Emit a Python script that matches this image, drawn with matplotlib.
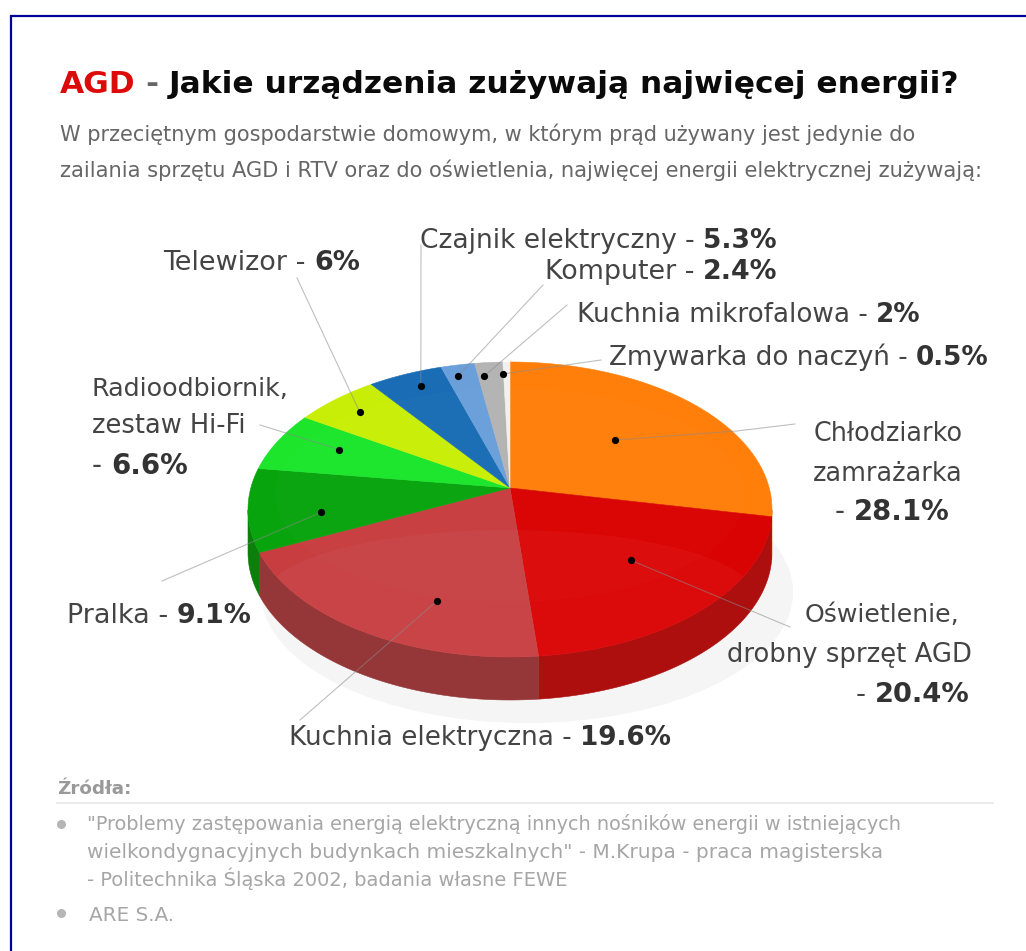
import numpy as np
import matplotlib
matplotlib.use("Agg")
import matplotlib.pyplot as plt
from matplotlib.patches import Ellipse, Polygon

categories = ["Chłodziarko zamrażarka", "Oświetlenie, drobny sprzęt AGD",
              "Kuchnia elektryczna", "Pralka", "Radioodbiornik, zestaw Hi-Fi",
              "Telewizor", "Czajnik elektryczny", "Komputer",
              "Kuchnia mikrofalowa", "Zmywarka do naczyń"]
values = [28.1, 20.4, 19.6, 9.1, 6.6, 6.0, 5.3, 2.4, 2.0, 0.5]
top_colors = ["#FF7F0A", "#DA0303", "#C83E40", "#08A40E", "#1CE52C",
              "#C8EE08", "#1A6DB5", "#6A9FDA", "#B4B4B4", "#F0F0F0"]
wall_colors = ["#C86408", "#AD0F0F", "#953638", "#0B7E0B", "#14A020",
               "#90AA08", "#14508A", "#4A74A0", "#858585", "#C0C0C0"]
dot_radius = [0.55, 0.64, 0.746, 0.73, 0.74, 0.85, 0.875, 0.903, 0.88, 0.893]
dot_angle = [50.6, 137.0, 199.8, 257.0, 292.0, 312.3, 334.0, 345.5, 352.6, 358.0]
leader_ends = [[(737, 431), (795, 424)], [(790, 627)], [(300, 720)], [(162, 581)],
               [(260, 425)], [(297, 278)], [(421, 245)], [(543, 285)],
               [(567, 305)], [(601, 360)]]

W, H = 1026, 951
CX, CY, RX, RY = 510.0, 509.5, 262.0, 147.5
APEX = 0.146
DEPTH = 43.0

fig = plt.figure(figsize=(W / 100, H / 100), dpi=100, facecolor="white")
ax = fig.add_axes([0, 0, 1, 1])
ax.set_xlim(0, W)
ax.set_ylim(H, 0)
ax.axis("off")
renderer = fig.canvas.get_renderer()


def project(angle_cw, r=1.0):
    """Perspective view of a point of the pie (angle clockwise from the top)."""
    X, Y = r * np.sin(angle_cw), r * np.cos(angle_cw)
    den = 1 + APEX * Y
    return CX + RX * X * np.sqrt(1 - APEX ** 2) / den, CY - RY * (Y + APEX) / den


# soft shadow and border
ax.add_patch(Ellipse((527, 592), 532, 262, fc="#F5F5F5", ec="none", zorder=1))
ax.plot([11, 11, W], [H, 16, 16], color="#00009A", lw=1.6, zorder=1,
        solid_joinstyle="miter")

edges = np.concatenate([[0], np.cumsum(values)]) / sum(values) * 2 * np.pi

# side wall
for i in range(len(values)):
    t = np.linspace(edges[i], edges[i + 1], 200)
    x, y = project(t)
    keep = y >= CY
    if keep.sum() > 1:
        xs, ys = x[keep], y[keep]
        ax.fill(np.r_[xs, xs[::-1]], np.r_[ys, ys[::-1] + DEPTH],
                fc=wall_colors[i], ec=wall_colors[i], lw=0.4, zorder=2)

# top face
apex_xy = project(0.0, 0.0)
for i in range(len(values)):
    t = np.linspace(edges[i], edges[i + 1], 200)
    x, y = project(t)
    ax.fill(np.r_[apex_xy[0], x], np.r_[apex_xy[1], y],
            fc=top_colors[i], ec=top_colors[i], lw=0.4, zorder=3)

# gloss bands on the top face
tt = np.linspace(0, 2 * np.pi, 400)
fx, fy = project(tt)
clip = Polygon(np.c_[fx, fy], closed=True, transform=ax.transData, fc="none", ec="none")
ax.add_patch(clip)
gloss = Ellipse((510, 597), 490, 134, fc="white", ec="none", alpha=0.035, zorder=4)
ax.add_patch(gloss)
gloss.set_clip_path(clip)
rim = Ellipse((510, 495), 470, 214, fc="white", ec="none", alpha=0.012, zorder=4)
ax.add_patch(rim)
rim.set_clip_path(clip)

# leaders and dots
for i in range(len(values)):
    px, py = project(np.radians(dot_angle[i]), dot_radius[i])
    pts = [(px, py)] + leader_ends[i]
    ax.plot(*zip(*pts), color="#8A8A8A", lw=0.8, alpha=0.55, zorder=5)
    ax.plot([px], [py], "o", color="black", ms=5.2, mec="none", zorder=6)


def runs(parts, x0, x1, y, base=14.0, family="DejaVu Sans"):
    """Write text runs side by side on one baseline, filling x0..x1 in pixels."""
    def measure(size):
        sizes = []
        for text, weight, _ in parts:
            t = ax.text(0, 0, text, fontsize=size, fontweight=weight, family=family)
            w = t.get_window_extent(renderer).width
            t.remove()
            sizes.append(w)
        gap = size * 100 / 72 * 0.318
        return sizes, gap, sum(sizes) + gap * (len(parts) - 1)

    _, _, total = measure(base)
    size = base * (x1 - x0) / total
    sizes, gap, _ = measure(size)
    x = x0
    for (text, weight, color), w in zip(parts, sizes):
        ax.text(x, y, text, fontsize=size, fontweight=weight, color=color,
                family=family, va="baseline", ha="left", zorder=7)
        x += w + gap


DARK = "#444444"
N, B = "normal", "bold"

runs([("AGD", B, "#DD0A0A"), ("-", B, "#666666"),
      ("Jakie urządzenia zużywają najwięcej energii?", B, "#0A0A0A")], 60, 960, 93)
SUB = "#666666"
runs([("W przeciętnym gospodarstwie domowym, w którym prąd używany jest jedynie do", N, SUB)],
     60, 917, 141)
runs([("zailania sprzętu AGD i RTV oraz do oświetlenia, najwięcej energii elektrycznej zużywają:", N, SUB)],
     60, 986, 177)

labels = [
    ("Czajnik elektryczny -", "5.3%", 420, 778, 248),
    ("Komputer -", "2.4%", 545, 778, 279),
    ("Kuchnia mikrofalowa -", "2%", 577, 922, 322),
    ("Zmywarka do naczyń -", "0.5%", 609, 990, 365),
    ("Telewizor -", "6%", 163, 361, 270),
    ("Radioodbiornik,", None, 92, 290, 396),
    ("zestaw Hi-Fi", None, 92, 247, 433),
    ("-", "6.6%", 92, 188, 474),
    ("Chłodziarko", None, 814, 964, 441),
    ("zamrażarka", None, 813, 963, 481),
    ("-", "28.1%", 835, 950, 520),
    ("Oświetlenie,", None, 805, 960, 622),
    ("drobny sprzęt AGD", None, 727, 972, 662),
    ("-", "20.4%", 856, 970, 702),
    ("Pralka -", "9.1%", 67, 252, 623),
    ("Kuchnia elektryczna -", "19.6%", 289, 672, 745),
]
for text, bold, x0, x1, y in labels:
    parts = [(text, N, DARK)]
    if bold:
        parts.append((bold, B, "#333333"))
    runs(parts, x0, x1, y)

SRC = "#A6A6A6"
runs([("Źródła:", B, "#999999")], 57, 132, 794, base=10)
ax.plot([57, 993], [803, 803], color="#E8E8E8", lw=1.2, zorder=1)
ax.plot([61, 61], [824, 913], "o", color="#B5B5B5", ms=6.5, mec="none", ls="none")
runs([("\"Problemy zastępowania energią elektryczną innych nośników energii w istniejących", N, SRC)],
     87, 904, 830, base=10)
runs([("wielkondygnacyjnych budynkach mieszkalnych\" - M.Krupa - praca magisterska", N, SRC)],
     87, 881, 858, base=10)
runs([("- Politechnika Śląska 2002, badania własne FEWE", N, SRC)], 87, 569, 886, base=10)
runs([("ARE S.A.", N, SRC)], 89, 174, 921, base=10)

fig.savefig("out.png", dpi=100, facecolor="white")
